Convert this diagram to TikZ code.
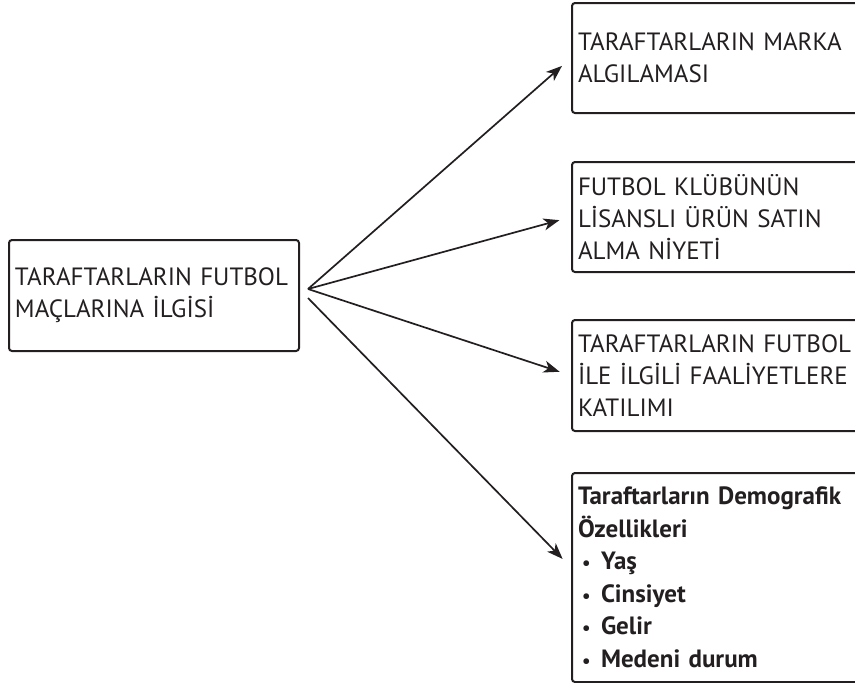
\documentclass[tikz,border=0pt]{standalone}
\usepackage{fontspec}
\setmainfont{PT Sans}
\usetikzlibrary{arrows.meta,positioning}
\definecolor{ink}{HTML}{231F20}
\tikzset{
kutu/.style={draw=ink, line width=2pt, rounded corners=3pt, align=left, text=ink,
  inner xsep=6pt, anchor=north west, font=\fontsize{25}{32}\selectfont}, % common box look
sag/.style={kutu, text width=290pt}, % right column boxes, cut by the page edge
ok/.style={-{Stealth[length=16pt,width=12pt,inset=4.5pt]}, draw=ink, line width=1.7pt, shorten >=12pt},
}
\newcommand{\madde}[1]{\hspace*{4pt}\makebox[19pt][l]{\scalebox{0.75}{•}}#1}

\begin{document}
\begin{tikzpicture}[x=1pt,y=-1pt]
    \clip (0,0) rectangle (855,683);
    \node[kutu, text width=278pt, minimum height=111pt] (ilgi) at (8,239) {TARAFTARLARIN FUTBOL\\MAÇLARINA İLGİSİ};
    \node[sag, minimum height=110pt] (marka) at (571,2) {TARAFTARLARIN MARKA\\ALGILAMASI};
    \node[sag, minimum height=110pt] (lisans) at (571,161) {FUTBOL KLÜBÜNÜN\\LİSANSLI ÜRÜN SATIN\\ALMA NİYETİ};
    \node[sag, minimum height=111pt] (faaliyet) at (571,319) {TARAFTARLARIN FUTBOL\\İLE İLGİLİ FAALİYETLERE\\KATILIMI};
    \node[sag, minimum height=209pt, font=\fontsize{25}{32.5}\selectfont\bfseries] (demo) at (571,472)
      {Taraftarların Demografik\\Özellikleri\\\madde{Yaş}\\\madde{Cinsiyet}\\\madde{Gelir}\\\madde{Medeni durum}};
    \coordinate (cikis) at (308,289);
    \coordinate (cikis2) at (308,298);
    \draw[ok] (cikis) -- (marka.west);
    \draw[ok] (cikis) -- (lisans.west);
    \draw[ok] (cikis) -- (faaliyet.west);
    \draw[ok] (cikis2) -- ([yshift=10pt]demo.west);
\end{tikzpicture}
\end{document}
